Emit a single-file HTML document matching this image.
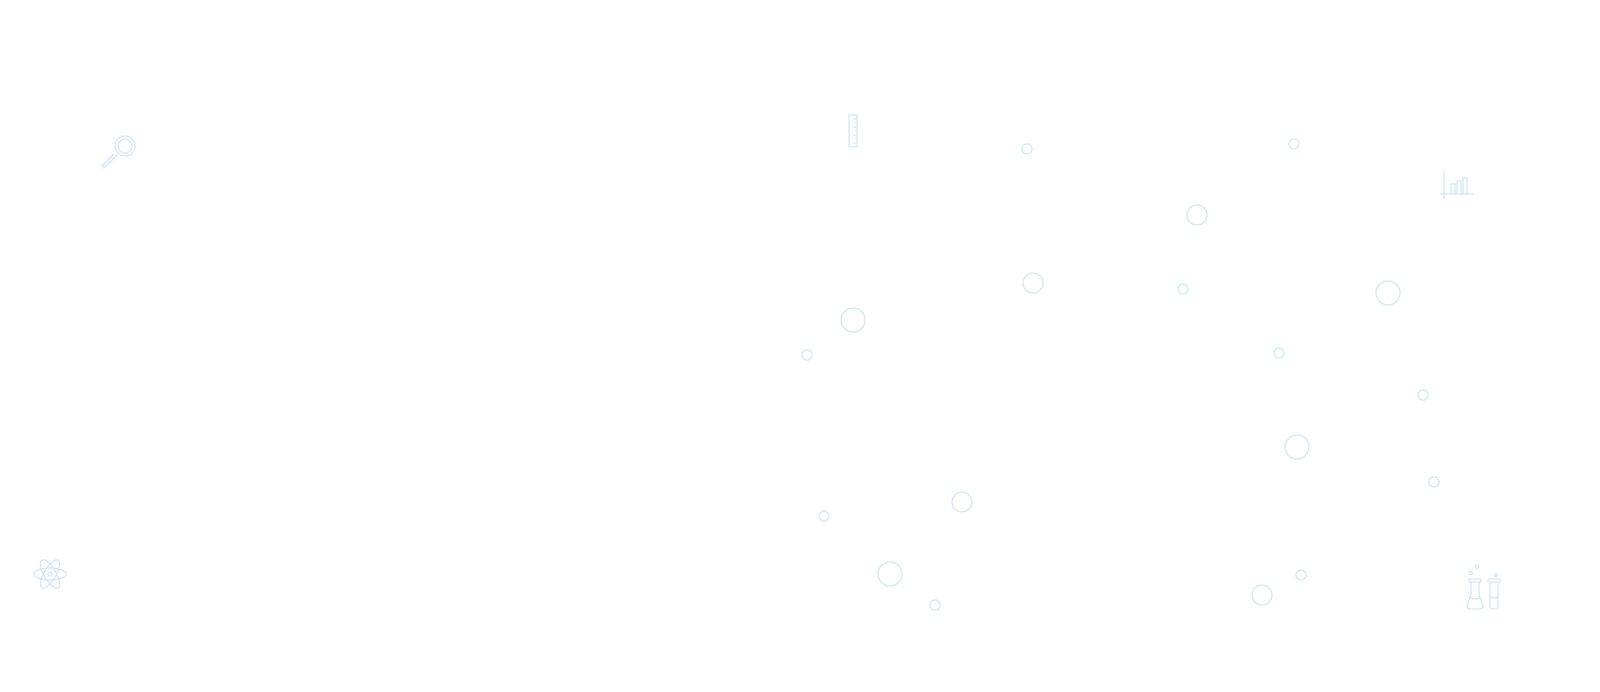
<!DOCTYPE html>
<html><head><meta charset="utf-8"><style>html,body{margin:0;padding:0;background:#fff;width:1600px;height:692px;overflow:hidden}</style></head>
<body>
<svg width="1600" height="692" viewBox="0 0 1600 692" xmlns="http://www.w3.org/2000/svg" fill="none" stroke="#d3e6f6" stroke-width="1.3">
<!-- bubbles -->
<circle cx="1027" cy="149" r="5"/><circle cx="1294" cy="144" r="5"/>
<circle cx="1197" cy="215" r="10"/><circle cx="1033" cy="283" r="10"/>
<circle cx="1183" cy="289" r="5"/><circle cx="1388" cy="293" r="12"/>
<circle cx="853" cy="320" r="12"/><circle cx="807" cy="355" r="5"/>
<circle cx="1279" cy="353" r="5"/><circle cx="1423" cy="395" r="5"/>
<circle cx="1297" cy="447" r="12"/><circle cx="1434" cy="482" r="5"/>
<circle cx="962" cy="502" r="10"/><circle cx="824" cy="516" r="5"/>
<circle cx="890" cy="574" r="12"/><circle cx="935" cy="605" r="5"/>
<circle cx="1301" cy="575" r="5"/><circle cx="1262" cy="595" r="10"/>
<!-- magnifier -->
<circle cx="125" cy="146" r="10"/><circle cx="125" cy="146" r="7"/>
<path d="M117 155 L105 167 Q103 169 104 167 L102 166 L114 154"/>
<!-- ruler -->
<rect x="849" y="115" width="8" height="32" rx="1"/>
<path d="M853 119h4M855 123h2M853 127h4M855 131h2M853 135h4M855 139h2M853 143h4"/>
<!-- chart -->
<path d="M1444 171v28M1440 194h34"/>
<rect x="1451" y="184" width="4" height="10"/><rect x="1457" y="181" width="4" height="13"/><rect x="1463" y="178" width="4" height="16"/>
<!-- atom -->
<ellipse cx="50" cy="574" rx="16" ry="6"/>
<ellipse cx="50" cy="574" rx="16" ry="6" transform="rotate(60 50 574)"/>
<ellipse cx="50" cy="574" rx="16" ry="6" transform="rotate(-60 50 574)"/>
<circle cx="50" cy="574" r="2"/>
<!-- flasks -->
<circle cx="1471" cy="573" r="1.5"/><circle cx="1477" cy="567" r="1.5"/><circle cx="1496" cy="575" r="1.5"/>
<rect x="1469" y="579" width="12" height="3" rx="1"/>
<path d="M1471 582v12l-4 12q0 3 3 3h10q3 0 3-3l-4-12v-12M1470 598q5 2 10 0"/>
<rect x="1488" y="579" width="12" height="3" rx="1"/>
<path d="M1490 582v24q0 3 4 3q4 0 4-3v-24M1490 597q4 2 8 0"/>
</svg>
</body></html>
